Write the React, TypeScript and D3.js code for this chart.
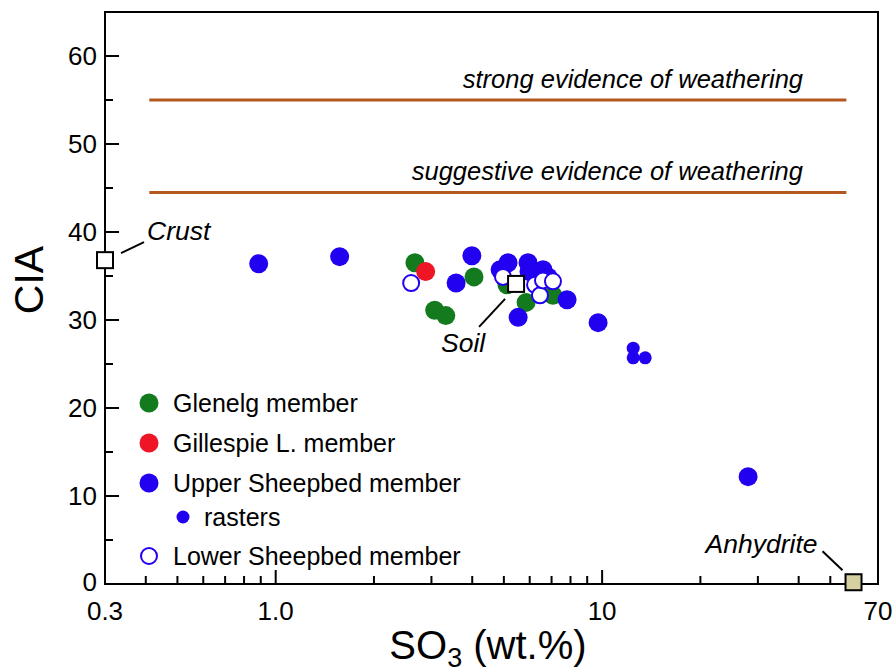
import React from "react";
import * as d3 from "d3";

// SO3 (wt.%), CIA
const glenelg = [
  [2.67, 36.5], [4.05, 34.9], [3.07, 31.1], [3.32, 30.5],
  [5.11, 34.0], [5.85, 32.0], [7.07, 32.8],
];
const gillespie = [[2.88, 35.5]];
const upperSheepbed = [
  [0.887, 36.4], [1.57, 37.2], [3.57, 34.2], [3.99, 37.3],
  [4.87, 35.7], [5.15, 36.5], [5.93, 36.5], [5.97, 35.5],
  [6.59, 35.7], [6.83, 34.9], [7.81, 32.3], [5.53, 30.3],
  [9.72, 29.7], [28.0, 12.2],
];
const rasters = [[12.45, 26.8], [12.45, 25.7], [13.55, 25.7]];
const lowerSheepbed = [
  [2.6, 34.2], [4.97, 34.9], [6.23, 34.0], [6.45, 32.8],
  [6.59, 34.5], [7.07, 34.4],
];
const refNames = ["Crust", "Soil", "Anhydrite"];
const refSO3 = [0.3, 5.45, 58.9];
const refCIA = [36.8, 34.1, 0.2];

const thresholdLabels = ["strong evidence of weathering", "suggestive evidence of weathering"];
const thresholdCIA = [55, 44.5];
const thresholdSpan = [0.41, 56];

const yMajor = [0, 10, 20, 30, 40, 50, 60];
const yMinor = [5, 15, 25, 35, 45, 55];
const xLabelVals = [0.3, 1, 10, 70];
const xLabelText = ["0.3", "1.0", "10", "70"];
const xMajor = [1, 10];
const xMinor = [0.4, 0.5, 0.6, 0.7, 0.8, 0.9, 2, 3, 4, 5, 6, 7, 8, 9, 20, 30, 40, 50, 60];

const legendLabels = ["Glenelg member", "Gillespie L. member", "Upper Sheepbed member", "rasters", "Lower Sheepbed member"];

const GREEN = "#137b1e";
const RED = "#ee1526";
const BLUE = "#2200f0";
const BROWN = "#b3581e";
const FONT = "'Liberation Sans', Arial, Helvetica, sans-serif";

const W = 893;
const H = 672;
const L = 105, R = 878, T = 12, B = 584;

export default function App() {
  const x = d3.scaleLog().domain([0.3, 70]).range([L, R]);
  const y = d3.scaleLinear().domain([0, 65]).range([B, T]);

  const dots = (data: number[][], fill: string, r: number, key: string) =>
    data.map((d, i) => (
      <circle key={key + i} cx={x(d[0])} cy={y(d[1])} r={r} fill={fill} />
    ));

  // leader offsets for reference labels
  const refStyle = [
    { fill: "#fff", line: [16, -7, 39, -18], tx: 42, ty: -20, anchor: "start" },
    { fill: "#fff", line: [-11, 15, -37, 43], tx: -75, ty: 68, anchor: "start" },
    { fill: "#d4d0a0", line: [-11, -12, -31, -31], tx: -36, ty: -29, anchor: "end" },
  ];

  const legendY = [403, 443, 483, 517, 556];

  return (
    <svg
      width={W}
      height={H}
      style={{ position: "absolute", left: 0, top: 0, background: "#fff" }}
      fontFamily={FONT}
    >
      {/* threshold lines */}
      {thresholdCIA.map((c, i) => (
        <g key={"th" + i}>
          <line
            x1={x(thresholdSpan[0])}
            x2={x(thresholdSpan[1])}
            y1={y(c)}
            y2={y(c)}
            stroke={BROWN}
            strokeWidth={3}
          />
          <text
            x={803}
            y={y(c) - 12}
            textAnchor="end"
            fontSize={25.5}
            fontStyle="italic"
          >
            {thresholdLabels[i]}
          </text>
        </g>
      ))}

      {/* frame */}
      <rect x={L} y={T} width={R - L} height={B - T} fill="none" stroke="#000" strokeWidth={2} />

      {/* y ticks */}
      {yMajor.map((v) => (
        <g key={"ym" + v}>
          <line x1={L} x2={L + 14} y1={y(v)} y2={y(v)} stroke="#000" strokeWidth={2} />
          <text x={97} y={y(v) + (v === 0 ? 7 : 9)} textAnchor="end" fontSize={26}>
            {v}
          </text>
        </g>
      ))}
      {yMinor.map((v) => (
        <line key={"yn" + v} x1={L} x2={L + 8} y1={y(v)} y2={y(v)} stroke="#000" strokeWidth={2} />
      ))}

      {/* x ticks */}
      {xMajor.map((v) => (
        <line key={"xm" + v} x1={x(v)} x2={x(v)} y1={B} y2={B - 14} stroke="#000" strokeWidth={2} />
      ))}
      {xMinor.map((v) => (
        <line key={"xn" + v} x1={x(v)} x2={x(v)} y1={B} y2={B - 8} stroke="#000" strokeWidth={2} />
      ))}
      {xLabelVals.map((v, i) => (
        <text key={"xl" + v} x={x(v)} y={620} textAnchor="middle" fontSize={26}>
          {xLabelText[i]}
        </text>
      ))}

      {/* axis titles */}
      <text x={488} y={659} textAnchor="middle" fontSize={40}>
        SO<tspan fontSize={27} dy={8}>3</tspan>
        <tspan dy={-8}> (wt.%)</tspan>
      </text>
      <text transform="translate(43,280) rotate(-90)" textAnchor="middle" fontSize={41}>
        CIA
      </text>

      {/* data */}
      {dots(glenelg, GREEN, 9.5, "g")}
      {dots(gillespie, RED, 9.5, "r")}
      {dots(upperSheepbed, BLUE, 9.5, "u")}
      {dots(rasters, BLUE, 6.5, "s")}
      {lowerSheepbed.map((d, i) => (
        <circle key={"l" + i} cx={x(d[0])} cy={y(d[1])} r={8} fill="#fff" stroke={BLUE} strokeWidth={2} />
      ))}

      {/* reference compositions */}
      {refNames.map((n, i) => {
        const px = x(refSO3[i]);
        const py = y(refCIA[i]);
        const s = refStyle[i];
        return (
          <g key={n}>
            <line
              x1={px + s.line[0]}
              y1={py + s.line[1]}
              x2={px + s.line[2]}
              y2={py + s.line[3]}
              stroke="#000"
              strokeWidth={2}
            />
            <rect x={px - 8} y={py - 8} width={16} height={16} fill={s.fill} stroke="#000" strokeWidth={2} />
            <text x={px + s.tx} y={py + s.ty} textAnchor={s.anchor} fontSize={26.5} fontStyle="italic">
              {n}
            </text>
          </g>
        );
      })}

      {/* legend */}
      <circle cx={149} cy={legendY[0]} r={9.5} fill={GREEN} />
      <circle cx={149} cy={legendY[1]} r={9.5} fill={RED} />
      <circle cx={149} cy={legendY[2]} r={9.5} fill={BLUE} />
      <circle cx={183} cy={legendY[3]} r={6.5} fill={BLUE} />
      <circle cx={149} cy={legendY[4]} r={8} fill="#fff" stroke={BLUE} strokeWidth={2} />
      {legendLabels.map((t, i) => (
        <text key={t} x={i === 3 ? 204 : 173} y={legendY[i] + 8.5} fontSize={25}>
          {t}
        </text>
      ))}
    </svg>
  );
}
